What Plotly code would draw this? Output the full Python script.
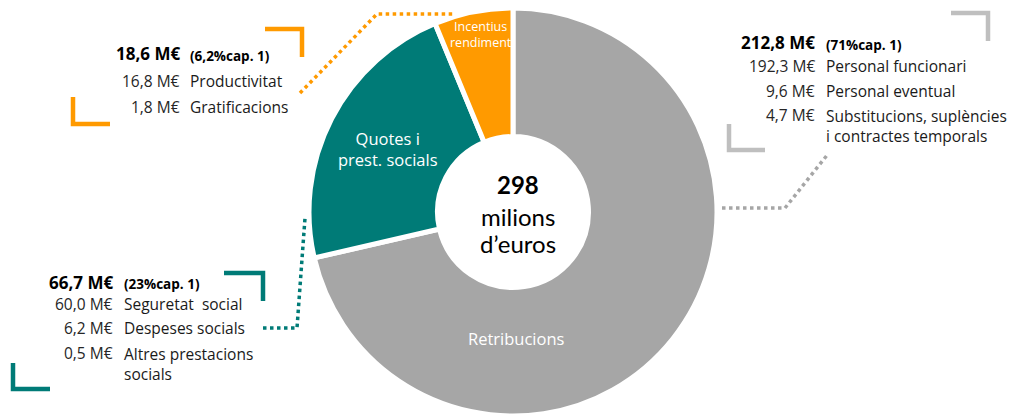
import plotly.graph_objects as go

# Dades del capítol 1
categories = ["Retribucions", "Quotes i<br>prest. socials", "Incentius<br>rendiment"]
values = [212.8, 66.7, 18.6]
totals = ["212,8 M€", "66,7 M€", "18,6 M€"]
shares = ["(71%cap. 1)", "(23%cap. 1)", "(6,2%cap. 1)"]
total_text = "298"

retrib_values = ["192,3 M€", "9,6 M€", "4,7 M€"]
retrib_labels = ["Personal funcionari", "Personal eventual", "Substitucions, suplències<br>i contractes temporals"]
quotes_values = ["60,0 M€", "6,2 M€", "0,5 M€"]
quotes_labels = ["Seguretat  social", "Despeses socials", "Altres prestacions<br>socials"]
incent_values = ["16,8 M€", "1,8 M€"]
incent_labels = ["Productivitat", "Gratificacions"]

colors = ["#A6A6A6", "#007B77", "#FF9A00"]
FONT = "Open Sans"
CFONT = "Lato"
# la pàgina té 8px de marge al body: la figura ocupa la resta de la finestra
OFF = 8
W, H = 1018 - OFF, 418 - OFF


def px(x):
    return (x - OFF) / W


def py(y):
    return 1 - (y - OFF) / H


fig = go.Figure()

cx, cy, r = 513 - OFF, 211 - OFF, 205
fig.add_trace(go.Pie(
    labels=categories,
    values=values,
    sort=False,
    direction="clockwise",
    rotation=0,
    hole=0.37,
    textinfo="none",
    hoverinfo="label+value",
    marker=dict(colors=colors, line=dict(color="white", width=5)),
    domain=dict(x=[(cx - r) / W, (cx + r) / W], y=[(H - cy - r) / H, min(1, (H - cy + r) / H)]),
    showlegend=False,
))

annotations = []


def ann(x, y, text, size, color="#1a1a1a", anchor="left", bold=False, family=FONT):
    if bold:
        text = "<b>" + text + "</b>"
    annotations.append(dict(
        x=px(x), y=py(y), xref="paper", yref="paper", text=text, showarrow=False,
        xanchor=anchor, yanchor="middle", align=anchor,
        font=dict(family=family, size=size, color=color),
    ))


def bloc(xv, xl, y0, total, share, vals, labs, ys):
    ann(xv, y0, total, 17, color="black", anchor="right", bold=True)
    ann(xl, y0 + 2, share, 13.5, color="black", bold=True)
    for v, l, y in zip(vals, labs, ys):
        ann(xv, y, v, 15.5, color="#262626", anchor="right")
        nl = l.count("<br>")
        ann(xl, y + nl * 11, l, 15.5, color="#1a1a1a")


bloc(817, 824, 43, totals[0], shares[0], retrib_values, retrib_labels, [66, 91, 115])
bloc(115, 122, 282, totals[1], shares[1], quotes_values, quotes_labels, [304, 328, 353])
bloc(182, 188, 54, totals[2], shares[2], incent_values, incent_labels, [81, 107])

# Etiquetes dins dels sectors
ann(516, 338, categories[0], 16.5, color="white", anchor="center")
ann(388, 149, categories[1], 16.5, color="white", anchor="center")
ann(481, 34, categories[2], 12.5, color="white", anchor="center")

# Total al centre
ann(518, 185, total_text, 24, color="black", anchor="center", bold=True, family=CFONT)
ann(518, 216, "milions", 24, color="black", anchor="center", family=CFONT)
ann(518, 244, "d’euros", 24, color="black", anchor="center", family=CFONT)

shapes = []


def path(points, color, width, dash="solid"):
    d = "M " + " L ".join(f"{px(x)},{py(y)}" for x, y in points)
    shapes.append(dict(type="path", path=d, xref="paper", yref="paper",
                       line=dict(color=color, width=width, dash=dash)))


# Cantonades
path([(951, 13), (988, 13), (988, 41)], "#BFBFBF", 4.5)
path([(729, 124), (729, 150), (765, 150)], "#BFBFBF", 4.5)
path([(224, 273), (263, 273), (263, 301)], colors[1], 4.5)
path([(13, 363), (13, 389), (50, 389)], colors[1], 4.5)
path([(265, 29), (302, 29), (302, 57)], colors[2], 4.5)
path([(73, 97), (73, 124), (110, 124)], colors[2], 4.5)

# Connectors puntejats
path([(722, 208), (785, 208), (828, 154)], "#A6A6A6", 3.5, "dot")
path([(263, 328), (297, 328), (305, 218)], colors[1], 3.5, "dot")
path([(300, 93), (377, 14), (453, 14)], colors[2], 3.5, "dot")

fig.update_layout(
    width=W, height=H,
    margin=dict(l=0, r=0, t=0, b=0),
    paper_bgcolor="white",
    plot_bgcolor="white",
    annotations=annotations,
    shapes=shapes,
    font=dict(family=FONT),
)

fig.write_html("out.html")
